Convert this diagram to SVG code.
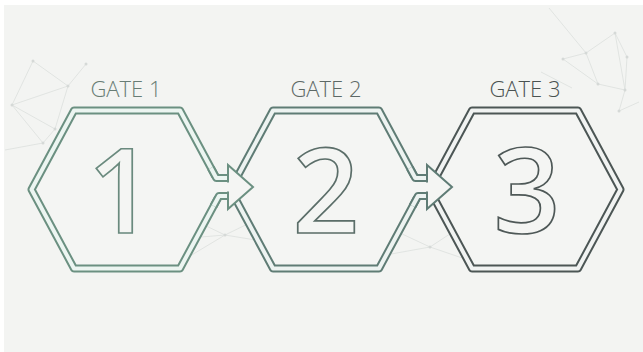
<svg xmlns="http://www.w3.org/2000/svg" width="643" height="352" viewBox="0 0 643 352">
  <style>
    .bg { fill: #f3f4f2; }
    .net line { stroke: #dcdfdd; stroke-width: 0.8; }
    .net circle { fill: #d5d9d7; }
    .band { stroke-width: 8; stroke-linejoin: round; stroke-linecap: butt; }
    .gap { fill: none; stroke-width: 4; stroke-linejoin: round; stroke-linecap: butt; }
    .c1 { stroke: #6b9081; }
    .g1 { stroke: #ecf5f1; }
    .c2 { stroke: #5f7c75; }
    .g2 { stroke: #edf3f1; }
    .c3 { stroke: #4c5655; }
    .g3 { stroke: #f1f3f2; }
    .shape { fill: #f4f5f3; }
    .head { fill: #f4f5f3; stroke-width: 2; stroke-linejoin: miter; }
    .label { font-family: "Open Sans", "Liberation Sans", sans-serif; font-weight: 300; font-size: 22px; text-anchor: middle; }
    .digit { font-family: "Open Sans", "Liberation Sans", sans-serif; font-weight: 600; font-size: 117px; text-anchor: middle; fill: #f4f5f3; stroke-width: 1.7; }
    .afill { fill: #f4f5f3; stroke: none; }
  </style>

  <rect class="bg" x="0" y="0" width="643" height="352"/>
  <rect x="0" y="0" width="643" height="5" fill="#ffffff"/>
  <rect x="0" y="0" width="4" height="352" fill="#ffffff"/>

  <g id="background-network" class="net">
    <line x1="33" y1="61" x2="68" y2="86"/>
    <line x1="86" y1="64" x2="68" y2="86"/>
    <line x1="68" y1="86" x2="12" y2="105"/>
    <line x1="12" y1="105" x2="33" y2="61"/>
    <line x1="12" y1="105" x2="55" y2="129"/>
    <line x1="55" y1="129" x2="43" y2="143"/>
    <line x1="68" y1="86" x2="55" y2="129"/>
    <line x1="12" y1="105" x2="43" y2="143"/>
    <line x1="5" y1="150" x2="43" y2="143"/>
    <circle cx="33" cy="61" r="1.5"/><circle cx="86" cy="64" r="1.5"/><circle cx="68" cy="86" r="1.5"/>
    <circle cx="12" cy="105" r="1.5"/><circle cx="55" cy="129" r="1.5"/><circle cx="43" cy="143" r="1.5"/>

    <line x1="549" y1="8" x2="586" y2="53"/>
    <line x1="563" y1="59" x2="586" y2="53"/>
    <line x1="586" y1="53" x2="615" y2="33"/>
    <line x1="615" y1="33" x2="627" y2="57"/>
    <line x1="586" y1="53" x2="598" y2="84"/>
    <line x1="541" y1="72" x2="572" y2="88"/>
    <line x1="598" y1="84" x2="625" y2="90"/>
    <line x1="627" y1="57" x2="625" y2="90"/>
    <line x1="625" y1="90" x2="619" y2="111"/>
    <line x1="619" y1="111" x2="639" y2="102"/>
    <line x1="563" y1="59" x2="598" y2="84"/>
    <line x1="615" y1="33" x2="625" y2="90"/>
    <circle cx="563" cy="59" r="1.5"/><circle cx="586" cy="53" r="1.5"/><circle cx="615" cy="33" r="1.5"/>
    <circle cx="627" cy="57" r="1.5"/><circle cx="598" cy="84" r="1.5"/><circle cx="625" cy="90" r="1.5"/>
    <circle cx="619" cy="111" r="1.5"/>

    <line x1="225" y1="235" x2="200" y2="223"/>
    <line x1="225" y1="235" x2="262" y2="217"/>
    <line x1="225" y1="235" x2="292" y2="246"/>
    <line x1="225" y1="235" x2="180" y2="262"/>
    <line x1="165" y1="240" x2="225" y2="235"/>
    <circle cx="225" cy="235" r="1.5"/>
    <line x1="430" y1="247" x2="400" y2="233"/>
    <line x1="430" y1="247" x2="462" y2="226"/>
    <line x1="430" y1="247" x2="474" y2="262"/>
    <line x1="430" y1="247" x2="380" y2="256"/>
    <circle cx="430" cy="247" r="1.5"/>
  </g>

  <g id="gate3">
    <path class="band c3 shape" d="M429.5,189.5 L472,110.5 L578,110.5 L620.5,189.5 L578,268.5 L472,268.5 Z"/>
    <path class="gap g3" d="M429.5,189.5 L472,110.5 L578,110.5 L620.5,189.5 L578,268.5 L472,268.5 Z"/>
    <text class="label" x="525" y="97" fill="#4a5251">GATE 3</text>
    <text class="digit" x="527" y="233" stroke="#4e5857">3</text>
  </g>

  <g id="gate2">
    <path class="band c2 shape" d="M230.5,189.5 L273,110.5 L379,110.5 L421.5,189.5 L379,268.5 L273,268.5 Z"/>
    <path class="gap g2" d="M230.5,189.5 L273,110.5 L379,110.5 L421.5,189.5 L379,268.5 L273,268.5 Z"/>
    <text class="label" x="326" y="97" fill="#5d6966">GATE 2</text>
    <text class="digit" x="326" y="233" stroke="#5b6e69">2</text>
  </g>

  <g id="gate1">
    <path class="band c1 shape" d="M31.5,189.5 L74,110.5 L180,110.5 L222.5,189.5 L180,268.5 L74,268.5 Z"/>
    <path class="gap g1" d="M31.5,189.5 L74,110.5 L180,110.5 L222.5,189.5 L180,268.5 L74,268.5 Z"/>
    <text class="label" x="126" y="97" fill="#687d75">GATE 1</text>
    <text class="digit" x="121" y="233" stroke="#6a8a7e">1</text>
  </g>

  <g id="connectors">
    <g id="arrow-1-2">
      <path class="afill" d="M205,178 L228,178 L228,165 L253,187 L228,209 L228,196 L207,196 Z"/>
      <path class="band c1" fill="none" d="M210.9,168 L216.3,178 L228,178"/>
      <path class="gap g1" d="M210.9,168 L216.3,178 L228,178"/>
      <path class="band c1" fill="none" d="M213.6,206 L219,196 L228,196"/>
      <path class="gap g1" d="M213.6,206 L219,196 L228,196"/>
      <path class="head c1" d="M228,182.5 L228,165 L253,187 L228,209 L228,191.5"/>
    </g>
    <g id="arrow-2-3">
      <path class="afill" d="M404,178 L427,178 L427,165 L452,187 L427,209 L427,196 L406,196 Z"/>
      <path class="band c2" fill="none" d="M409.9,168 L415.3,178 L427,178"/>
      <path class="gap g2" d="M409.9,168 L415.3,178 L427,178"/>
      <path class="band c2" fill="none" d="M412.6,206 L418,196 L427,196"/>
      <path class="gap g2" d="M412.6,206 L418,196 L427,196"/>
      <path class="head c2" d="M427,182.5 L427,165 L452,187 L427,209 L427,191.5"/>
    </g>
  </g>
</svg>
